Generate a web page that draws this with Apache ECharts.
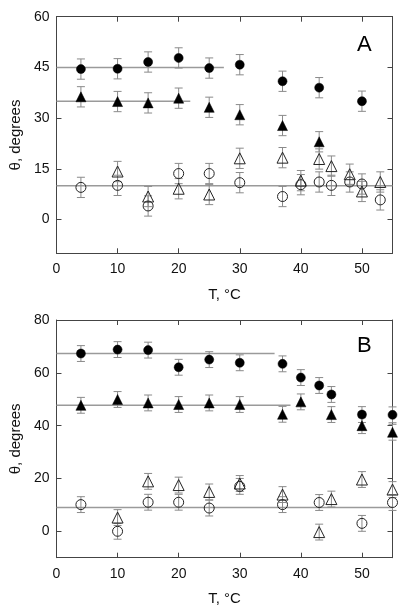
<!DOCTYPE html>
<html><head><meta charset="utf-8">
<script src="https://cdn.jsdelivr.net/npm/echarts@6/dist/echarts.min.js"></script>
<style>html,body{margin:0;padding:0;background:#fff}#c{width:400px;height:615px}</style>
</head><body><div id="c"></div>
<script>
// Panel A data
const A_T_fc = [4,10,15,20,25,30,37,43,50];
const A_fc   = [44.5,44.6,46.6,47.8,44.8,45.8,40.9,39.0,35.0];
const A_T_ft = [4,10,15,20,25,30,37,43];
const A_ft   = [36.3,34.9,34.5,35.9,33.2,31.0,27.8,23.0];
const A_T_oc = [4,10,15,20,25,30,37,40,43,45,48,50,53];
const A_oc   = [9.5,10.1,4.0,13.6,13.6,10.9,6.8,10.3,11.1,10.1,11.1,10.5,5.8];
const A_T_ot = [10,15,20,25,30,37,40,43,45,48,50,53];
const A_ot   = [14.2,6.8,9.1,7.4,18.1,18.3,11.5,17.9,15.8,13.4,8.3,11.1];
const A_err  = 3;
const A_lines = [ {x:[0,27.4], y:45}, {x:[0,21.9], y:35}, {x:[0,55], y:10} ];
const A_yTicks = [0,15,30,45,60];

// Panel B data
const B_T_fc = [4,10,15,20,25,30,37,40,43,45,50,55];
const B_fc   = [67.3,68.8,68.6,62.1,65.0,63.8,63.4,58.2,55.2,51.8,44.2,44.1];
const B_T_ft = [4,10,15,20,25,30,37,40,45,50,55];
const B_ft   = [47.7,49.9,48.6,48.0,48.6,48.0,44.3,49.0,44.2,40.0,37.5];
const B_T_oc = [4,10,15,20,25,30,37,43,50,55];
const B_oc   = [10.1,0,11.0,11.0,8.8,17.0,10.1,10.9,3.0,10.9];
const B_T_ot = [10,15,20,25,30,37,43,45,50,55];
const B_ot   = [5.2,18.9,17.5,14.9,18.1,13.9,-0.3,12.2,19.6,15.8];
const B_err  = 3;
const B_lines = [ {x:[0,35.7], y:67.3}, {x:[0,38.3], y:47.7}, {x:[0,55], y:9.0} ];
const B_yTicks = [0,20,40,60,80];

const xTicks = [0,10,20,30,40,50];
const FONT = 'Liberation Sans, Arial, sans-serif';
const AX = '#444';

const chart = echarts.init(document.getElementById('c'), null, {renderer:'canvas'});

function zip(xs, ys){ return xs.map((x,i)=>[x, ys[i]]); }
function zipErr(xs, ys, e){ return xs.map((x,i)=>[x, ys[i], e]); }

function xAxes(gi){
  const base = {type:'value', gridIndex:gi, min:0, max:55,
    axisLine:{show:true, onZero:false, lineStyle:{color:AX, width:1}},
    splitLine:{show:false}};
  return [
    Object.assign({}, base, {position:'bottom',
      name:'T, \u00B0C', nameLocation:'middle', nameGap:34,
      nameTextStyle:{fontFamily:FONT, fontSize:15, color:'#111'},
      axisTick:{show:true, inside:true, length:5, customValues:[10,20,30,40,50], lineStyle:{color:AX}},
      axisLabel:{show:true, customValues:xTicks, margin:9, fontFamily:FONT, fontSize:14, color:'#111'}}),
    Object.assign({}, base, {position:'top',
      axisTick:{show:true, inside:true, length:5, customValues:[10,20,30,40,50], lineStyle:{color:AX}},
      axisLabel:{show:false}})
  ];
}
function yAxes(gi, max, ticks){
  const base = {type:'value', gridIndex:gi, min:-10, max:max,
    axisLine:{show:true, onZero:false, lineStyle:{color:AX, width:1}},
    splitLine:{show:false}};
  return [
    Object.assign({}, base, {position:'left',
      name:'\u03B8, degrees', nameLocation:'middle', nameGap:32, nameRotate:90,
      nameTextStyle:{fontFamily:FONT, fontSize:15, color:'#111'},
      axisTick:{show:true, inside:true, length:5, customValues:ticks, lineStyle:{color:AX}},
      axisLabel:{show:true, customValues:ticks, margin:7, fontFamily:FONT, fontSize:14, color:'#111'}}),
    Object.assign({}, base, {position:'right',
      axisTick:{show:true, inside:true, length:5, customValues:ticks, lineStyle:{color:AX}},
      axisLabel:{show:false}})
  ];
}

function errSeries(xi, yi, data){
  return {type:'custom', xAxisIndex:xi, yAxisIndex:yi, z:2, silent:true,
    renderItem:function(params, api){
      const x = api.value(0), y = api.value(1), e = api.value(2);
      const hi = api.coord([x, y+e]), lo = api.coord([x, y-e]);
      const w = 4;
      const st = {stroke:'#8a8a8a', lineWidth:1};
      return {type:'group', children:[
        {type:'line', shape:{x1:hi[0], y1:hi[1], x2:lo[0], y2:lo[1]}, style:st},
        {type:'line', shape:{x1:hi[0]-w, y1:hi[1], x2:hi[0]+w, y2:hi[1]}, style:st},
        {type:'line', shape:{x1:lo[0]-w, y1:lo[1], x2:lo[0]+w, y2:lo[1]}, style:st}
      ]};
    },
    data:data, clip:false};
}
function lineSeries(xi, yi, l){
  return {type:'line', xAxisIndex:xi, yAxisIndex:yi, z:1, symbol:'none', silent:true,
    lineStyle:{color:'#9a9a9a', width:1.5}, data:[[l.x[0], l.y],[l.x[1], l.y]]};
}
function scatter(xi, yi, data, kind){
  const filled = kind[0]==='f';
  const sym = kind[1]==='c' ? 'circle' : 'triangle';
  const size = filled ? (sym==='circle' ? 9 : 10) : (sym==='circle' ? 10 : 11);
  return {type:'scatter', xAxisIndex:xi, yAxisIndex:yi, z:5, clip:false, silent:true,
    symbol:sym, symbolSize:size,
    itemStyle: filled ? {color:'#000', borderColor:'#000', borderWidth:0.5, opacity:1}
                      : {color:'rgba(0,0,0,0)', borderColor:'#222', borderWidth:1, opacity:1},
    data:data};
}

const series = [];
A_lines.forEach(l=>series.push(lineSeries(0,0,l)));
B_lines.forEach(l=>series.push(lineSeries(2,2,l)));
[[A_T_fc,A_fc,'fc'],[A_T_ft,A_ft,'ft'],[A_T_oc,A_oc,'oc'],[A_T_ot,A_ot,'ot']].forEach(s=>{
  series.push(errSeries(0,0,zipErr(s[0],s[1],A_err)));
  series.push(scatter(0,0,zip(s[0],s[1]),s[2]));
});
[[B_T_fc,B_fc,'fc'],[B_T_ft,B_ft,'ft'],[B_T_oc,B_oc,'oc'],[B_T_ot,B_ot,'ot']].forEach(s=>{
  series.push(errSeries(2,2,zipErr(s[0],s[1],B_err)));
  series.push(scatter(2,2,zip(s[0],s[1]),s[2]));
});

chart.setOption({
  animation:false,
  backgroundColor:'#fff',
  grid:[
    {left:51.7, top:16.7, width:340.8, height:236.6},
    {left:51.7, top:320, width:340.8, height:237.7}
  ],
  xAxis:[].concat(xAxes(0), xAxes(1)),
  yAxis:[].concat(yAxes(0,60,A_yTicks), yAxes(1,80,B_yTicks)),
  graphic:[
    {type:'text', left:357, top:34, style:{text:'A', font:'22px '+FONT, fill:'#000'}},
    {type:'text', left:357, top:335, style:{text:'B', font:'22px '+FONT, fill:'#000'}}
  ],
  series:series
});
</script></body></html>
